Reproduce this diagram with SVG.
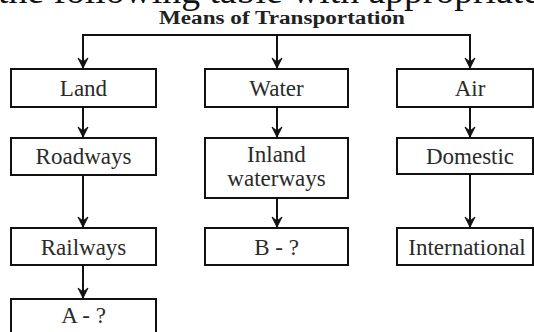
<svg xmlns="http://www.w3.org/2000/svg" width="534" height="332" viewBox="0 0 534 332">
<style>
.box{fill:#fff;stroke:#111;stroke-width:2}
.t{font-family:"Liberation Serif","Times New Roman",serif;font-size:23px;fill:#2a2a2a;text-anchor:middle}
.line{stroke:#111;stroke-width:2;fill:none}
.head{fill:#111;stroke:#111;stroke-width:1;stroke-linejoin:round}
</style>
<defs>
<marker id="ah" viewBox="0 0 12 12" refX="11" refY="6" markerWidth="12" markerHeight="12" markerUnits="userSpaceOnUse" orient="auto">
<path d="M1,1 L11,6 L1,11 L5,6 Z" class="head"/>
</marker>
</defs>
<rect width="534" height="332" fill="#fff"/>
<text x="-2" y="3" style="font-family:'Liberation Serif','Times New Roman',serif;font-size:36px;fill:#111" textLength="542" lengthAdjust="spacingAndGlyphs">the following table with appropriate</text>
<text x="282" y="24" style="font-family:'Liberation Serif','Times New Roman',serif;font-size:18px;font-weight:bold;fill:#222;text-anchor:middle" textLength="246" lengthAdjust="spacingAndGlyphs">Means of Transportation</text>
<g id="connectors">
<path class="line" d="M83,68 V35 H470 V68"/>
<path class="line" d="M277,35 V68" marker-end="url(#ah)"/>
<path class="line" d="M83,50 V68" marker-end="url(#ah)"/>
<path class="line" d="M470,50 V68" marker-end="url(#ah)"/>
<path class="line" d="M83,107 V137" marker-end="url(#ah)"/>
<path class="line" d="M83,175 V227" marker-end="url(#ah)"/>
<path class="line" d="M83,265 V298" marker-end="url(#ah)"/>
<path class="line" d="M277,107 V137" marker-end="url(#ah)"/>
<path class="line" d="M277,198 V227" marker-end="url(#ah)"/>
<path class="line" d="M470,107 V137" marker-end="url(#ah)"/>
<path class="line" d="M470,174 V227" marker-end="url(#ah)"/>
</g>
<g id="land"><rect class="box" x="11" y="69" width="145" height="38"/><text class="t" x="83.5" y="96">Land</text></g>
<g id="water"><rect class="box" x="205" y="69" width="143" height="38"/><text class="t" x="276.5" y="96">Water</text></g>
<g id="air"><rect class="box" x="397" y="69" width="136" height="38"/><text class="t" x="470" y="96">Air</text></g>
<g id="roadways"><rect class="box" x="11" y="138" width="145" height="37"/><text class="t" x="83.5" y="164">Roadways</text></g>
<g id="inland"><rect class="box" x="205" y="138" width="143" height="60"/><text class="t" x="276.5" y="162">Inland</text><text class="t" x="276.5" y="186">waterways</text></g>
<g id="domestic"><rect class="box" x="397" y="138" width="136" height="36"/><text class="t" x="470" y="164">Domestic</text></g>
<g id="railways"><rect class="box" x="11" y="228" width="145" height="37"/><text class="t" x="83.5" y="255">Railways</text></g>
<g id="b"><rect class="box" x="205" y="228" width="143" height="37"/><text class="t" x="276.5" y="255">B - ?</text></g>
<g id="international"><rect class="box" x="397" y="228" width="136" height="37"/><text class="t" x="467" y="255">International</text></g>
<g id="a"><rect class="box" x="11" y="299" width="145" height="45"/><text class="t" x="83.5" y="323">A - ?</text></g>
</svg>
